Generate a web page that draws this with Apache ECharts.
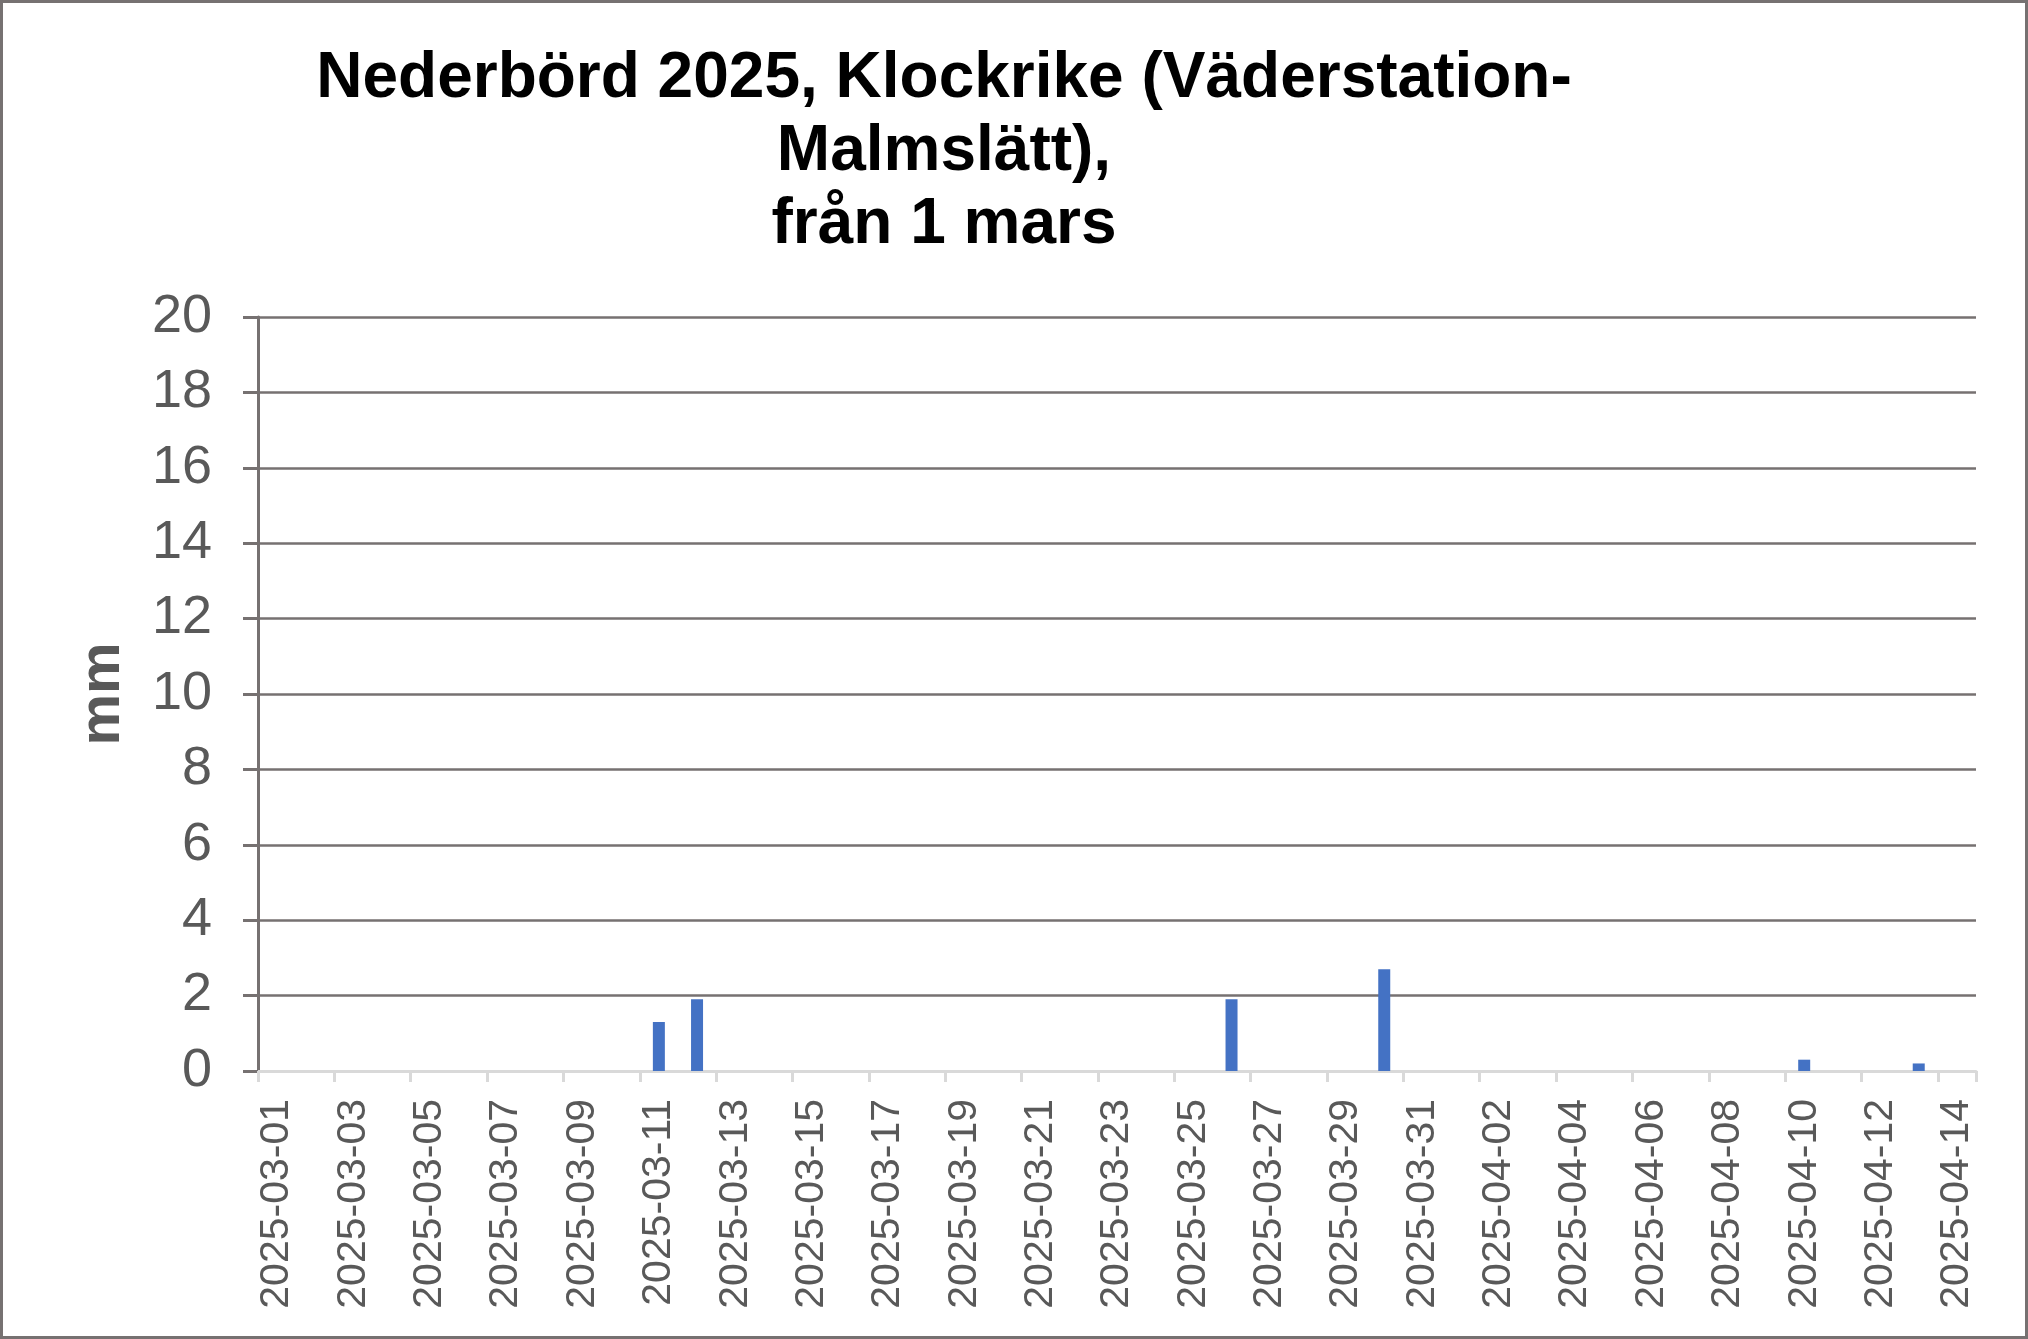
<!DOCTYPE html>
<html>
<head>
<meta charset="utf-8">
<title>Nederbörd 2025</title>
<script src="https://cdn.jsdelivr.net/npm/echarts@6/dist/echarts.min.js"></script>
<style>
  html, body { margin: 0; padding: 0; background: #fff; }
  #chart { width: 2028px; height: 1339px; }
</style>
</head>
<body>
<div id="chart"></div>
<script>
const dates = [
  '2025-03-01', '2025-03-02', '2025-03-03', '2025-03-04', '2025-03-05',
  '2025-03-06', '2025-03-07', '2025-03-08', '2025-03-09', '2025-03-10',
  '2025-03-11', '2025-03-12', '2025-03-13', '2025-03-14', '2025-03-15',
  '2025-03-16', '2025-03-17', '2025-03-18', '2025-03-19', '2025-03-20',
  '2025-03-21', '2025-03-22', '2025-03-23', '2025-03-24', '2025-03-25',
  '2025-03-26', '2025-03-27', '2025-03-28', '2025-03-29', '2025-03-30',
  '2025-03-31', '2025-04-01', '2025-04-02', '2025-04-03', '2025-04-04',
  '2025-04-05', '2025-04-06', '2025-04-07', '2025-04-08', '2025-04-09',
  '2025-04-10', '2025-04-11', '2025-04-12', '2025-04-13', '2025-04-14'
]
// mm per day
const rain = [
  0, 0, 0, 0, 0,
  0, 0, 0, 0, 0,
  1.3, 1.9, 0, 0, 0,
  0, 0, 0, 0, 0,
  0, 0, 0, 0, 0,
  1.9, 0, 0, 0, 2.7,
  0, 0, 0, 0, 0,
  0, 0, 0, 0, 0,
  0.3, 0, 0, 0.2, 0
]
const yTicks = { min: 0, max: 20, interval: 2 }
const titleText = 'Nederbörd 2025, Klockrike (Väderstation-\nMalmslätt),\nfrån 1 mars'

const font = 'Liberation Sans, Arial, sans-serif'
const chart = echarts.init(document.getElementById('chart'))

chart.setOption({
  animation: false,
  backgroundColor: '#fff',
  title: {
    text: titleText,
    left: 939,
    top: 38,
    textAlign: 'center',
    textStyle: {
      fontFamily: font,
      fontSize: 64,
      fontWeight: 'bold',
      color: '#000',
      lineHeight: 73
    }
  },
  graphic: [{
    type: 'rect',
    shape: { x: 1.5, y: 1.5, width: 2025, height: 1336 },
    style: { fill: 'none', stroke: '#767171', lineWidth: 3 },
    silent: true
  }],
  grid: {
    left: 258,
    right: 52,
    top: 317,
    bottom: 268
  },
  xAxis: {
    type: 'category',
    data: dates,
    boundaryGap: true,
    axisLine: { lineStyle: { color: '#d9d9d9', width: 3 } },
    axisTick: {
      show: true,
      interval: 1,
      length: 11,
      lineStyle: { color: '#d9d9d9', width: 3 }
    },
    axisLabel: {
      interval: 1,
      rotate: 90,
      margin: 28,
      fontFamily: font,
      fontSize: 41,
      color: '#595959'
    }
  },
  yAxis: {
    type: 'value',
    min: yTicks.min,
    max: yTicks.max,
    interval: yTicks.interval,
    name: 'mm',
    nameLocation: 'middle',
    nameGap: 126,
    nameTextStyle: {
      fontFamily: font,
      fontSize: 58,
      fontWeight: 'bold',
      color: '#595959'
    },
    axisLine: { show: true, lineStyle: { color: '#767171', width: 3 } },
    axisTick: { show: true, length: 15, lineStyle: { color: '#767171', width: 3 } },
    splitLine: { lineStyle: { color: '#767171', width: 2.5 } },
    axisLabel: {
      margin: 46,
      fontFamily: font,
      fontSize: 54,
      color: '#595959'
    }
  },
  series: [{
    name: 'Nederbörd',
    type: 'bar',
    data: rain,
    barWidth: 12,
    itemStyle: { color: '#4472c4' }
  }]
})
</script>
</body>
</html>
